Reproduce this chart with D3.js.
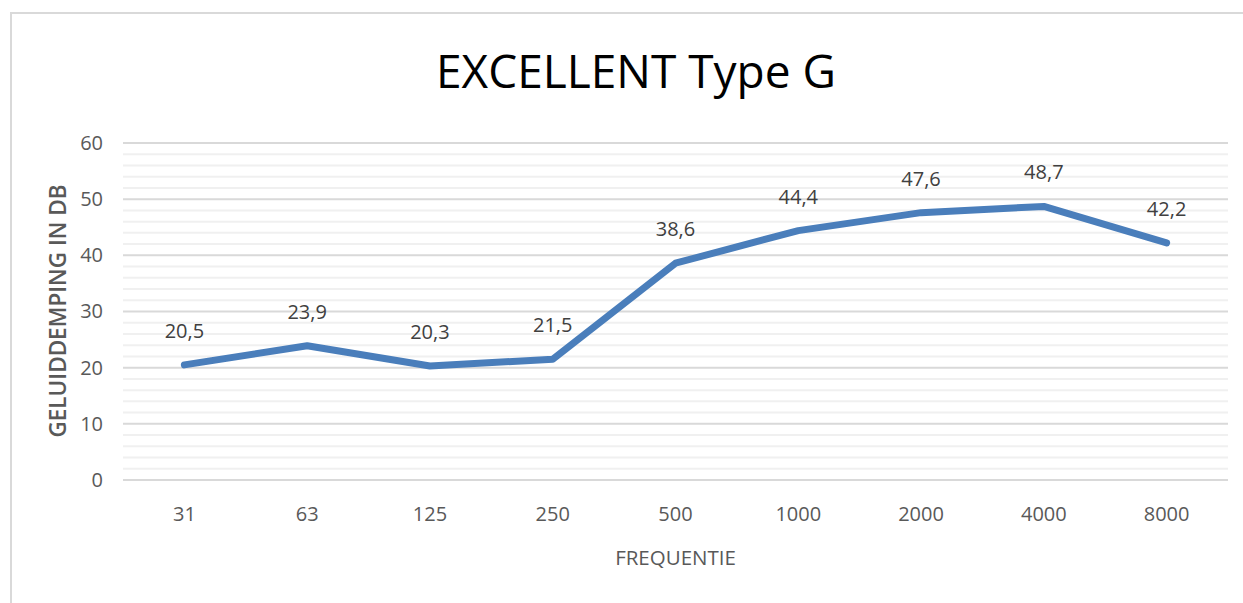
<!DOCTYPE html>
<html>
<head>
<meta charset="utf-8">
<script src="https://cdn.jsdelivr.net/npm/d3@7"></script>
<style>
  body { margin: 0; background: #fff; }
  text { font-family: "Open Sans", "Noto Sans", sans-serif; }
</style>
</head>
<body>
<div id="chart"></div>
<script>
// data
var frequencies = ["31", "63", "125", "250", "500", "1000", "2000", "4000", "8000"];
var damping = [20.5, 23.9, 20.3, 21.5, 38.6, 44.4, 47.6, 48.7, 42.2];
var yTicks = [0, 10, 20, 30, 40, 50, 60];
var minorTicks = d3.range(0, 61, 2);

var width = 1243, height = 603;
var margin = {top: 143, right: 15, bottom: 123, left: 123};
var width_g = width - margin.left - margin.right,
    height_g = height - margin.top - margin.bottom;

var svg = d3.select("#chart").append("svg")
    .attr("width", width)
    .attr("height", height);

// chart frame (only left/top edge visible in picture)
svg.append("rect")
    .attr("x", 11).attr("y", 13)
    .attr("width", width + 20).attr("height", height + 20)
    .attr("fill", "none")
    .attr("stroke", "#d9d9d9")
    .attr("stroke-width", 2);

var x = d3.scaleBand()
    .domain(frequencies)
    .range([0, width_g]);
var y = d3.scaleLinear()
    .domain([0, 60])
    .range([height_g, 0]);

var g = svg.append("g")
    .attr("transform", "translate(" + margin.left + "," + margin.top + ")");

// minor gridlines
g.append("g").attr("class", "minorgrid")
    .selectAll("line")
    .data(minorTicks.filter(function(d) { return d % 10 != 0; }))
    .enter().append("line")
    .attr("x1", 0).attr("x2", width_g)
    .attr("y1", function(d) { return y(d); })
    .attr("y2", function(d) { return y(d); })
    .attr("stroke", "#f0f0f0")
    .attr("stroke-width", 2);

// major gridlines
g.append("g").attr("class", "majorgrid")
    .selectAll("line")
    .data(yTicks)
    .enter().append("line")
    .attr("x1", 0).attr("x2", width_g)
    .attr("y1", function(d) { return y(d); })
    .attr("y2", function(d) { return y(d); })
    .attr("stroke", "#d9d9d9")
    .attr("stroke-width", 2);

// y axis labels
var yAxis = d3.axisLeft(y).tickValues(yTicks).tickSize(0).tickPadding(20);
g.append("g").attr("class", "yaxis")
    .call(yAxis)
    .call(function(s) { s.select(".domain").remove(); })
    .selectAll("text")
    .attr("font-size", 20)
    .attr("fill", "#595959")
    .style("font-family", "'Open Sans', sans-serif");

// x axis labels
var xAxis = d3.axisBottom(x).tickSize(0).tickPadding(27);
g.append("g").attr("class", "xaxis")
    .attr("transform", "translate(0," + height_g + ")")
    .call(xAxis)
    .call(function(s) { s.select(".domain").remove(); })
    .selectAll("text")
    .attr("font-size", 20)
    .attr("fill", "#595959")
    .style("font-family", "'Open Sans', sans-serif");

// line
var line = d3.line()
    .x(function(d, i) { return x(frequencies[i]) + x.bandwidth() / 2; })
    .y(function(d) { return y(d); });

g.append("path")
    .datum(damping)
    .attr("d", line)
    .attr("fill", "none")
    .attr("stroke", "#4a7ebb")
    .attr("stroke-width", 7)
    .attr("stroke-linejoin", "round")
    .attr("stroke-linecap", "round");

// data labels
g.append("g").attr("class", "labels")
    .selectAll("text")
    .data(damping)
    .enter().append("text")
    .attr("x", function(d, i) { return x(frequencies[i]) + x.bandwidth() / 2; })
    .attr("y", function(d) { return y(d) - 27; })
    .attr("text-anchor", "middle")
    .attr("font-size", 20)
    .attr("fill", "#404040")
    .text(function(d) { return d.toFixed(1).replace(".", ","); });

// title
svg.append("text")
    .attr("x", 636).attr("y", 88)
    .attr("text-anchor", "middle")
    .attr("font-size", 46)
    .attr("fill", "#000")
    .text("EXCELLENT Type G");

// axis titles
svg.append("text")
    .attr("transform", "translate(66,311) rotate(-90)")
    .attr("text-anchor", "middle")
    .attr("font-size", 22.5)
    .attr("font-weight", 600)
    .attr("fill", "#595959")
    .text("GELUIDDEMPING IN DB");

svg.append("text")
    .attr("x", margin.left + width_g / 2)
    .attr("y", 565)
    .attr("text-anchor", "middle")
    .attr("font-size", 20.5)
    .attr("fill", "#595959")
    .text("FREQUENTIE");
</script>
</body>
</html>
